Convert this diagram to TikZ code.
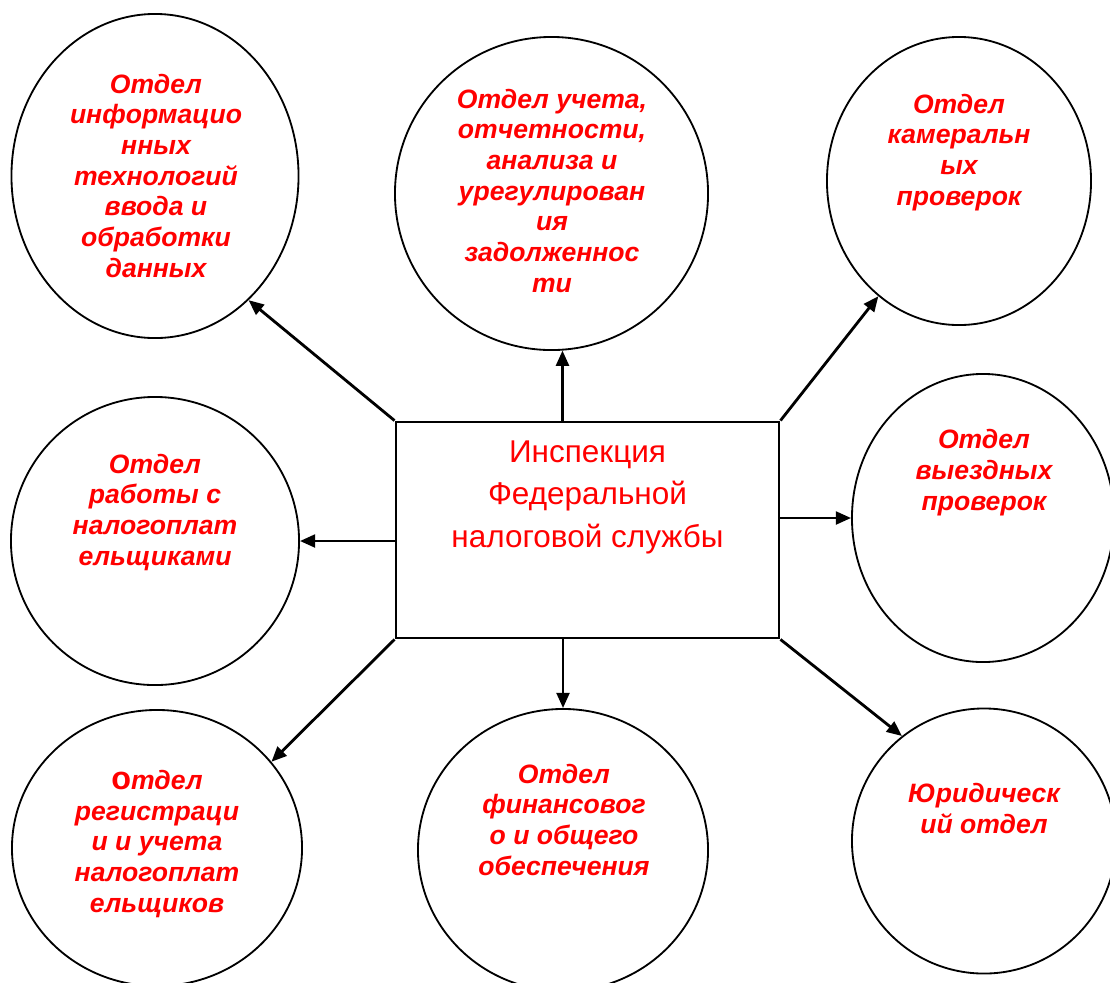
\documentclass[tikz,border=0pt]{standalone}
\usepackage{fontspec}
\setmainfont{Liberation Sans}
\usetikzlibrary{shapes.geometric,arrows.meta}
\tikzset{
  dept/.style={draw, ellipse, line width=1.3pt, inner sep=0pt},
  depttext/.style={text=red, font=\fontsize{18.9}{21.8}\selectfont\bfseries\itshape, align=center, anchor=base},
  arr/.style={line width=2pt, -{Triangle[length=0.38cm,width=0.32cm]}},
}

\begin{document}
\begin{tikzpicture}[x=0.025cm, y=-0.025cm]
\useasboundingbox (0,0) rectangle (1110,982);

\node[draw, line width=2pt, minimum width=9.575cm, minimum height=5.4cm, inner sep=0pt] (ifns) at (587.5,530) {};
\node[anchor=base, align=center, text=red, font=\fontsize{22.4}{29.9}\selectfont] (ifnstext) at (587.5,547) {Инспекция\\Федеральной\\налоговой службы};

\node[dept, minimum width=7.175cm, minimum height=8.1cm] (itdept) at (155,176) {};
\node[dept, minimum width=7.825cm, minimum height=7.825cm] (debtdept) at (551.5,193.5) {};
\node[dept, minimum width=6.6cm, minimum height=7.2cm] (deskdept) at (959,181) {};
\node[dept, minimum width=7.2cm, minimum height=7.2cm] (payerdept) at (155,541) {};
\node[dept, minimum width=6.55cm, minimum height=7.2cm] (fielddept) at (983,518) {};
\node[dept, minimum width=7.25cm, minimum height=6.9cm] (regdept) at (157,848) {};
\node[dept, minimum width=7.25cm, minimum height=7.05cm] (findept) at (563,850) {};
\node[dept, minimum width=6.6cm, minimum height=6.625cm] (lawdept) at (984,841) {};

\node[depttext] (ittext) at (156,277) {Отдел\\информацио\\нных\\технологий\\ввода и\\обработки\\данных};
\node[depttext] (debttext) at (552,292) {Отдел учета,\\отчетности,\\анализа и\\урегулирован\\ия\\задолженнос\\ти};
\node[depttext] (desktext) at (959,205) {Отдел\\камеральн\\ых\\проверок};
\node[depttext] (payertext) at (155,565) {Отдел\\работы с\\налогоплат\\ельщиками};
\node[depttext] (fieldtext) at (984,510) {Отдел\\выездных\\проверок};
\node[depttext] (regtext) at (157,912) {{\fontsize{23}{21.8}\selectfont\upshape о}тдел\\регистраци\\и и учета\\налогоплат\\ельщиков};
\node[depttext] (fintext) at (564,875) {Отдел\\финансовог\\о и общего\\обеспечения};
\node[depttext] (lawtext) at (984,833) {Юридическ\\ий отдел};

\draw[arr] (ifns.north west) -- (itdept.-53);
\draw[arr] (ifns.north -| debtdept.-86) -- (debtdept.-86);
\draw[arr] (ifns.north east) -- (deskdept.-125);
\draw[arr] (payerdept.east -| ifns.west) -- (payerdept.east);
\draw[arr] (fielddept.west -| ifns.east) -- (fielddept.west);
\draw[arr] (ifns.south west) -- (regdept.37);
\draw[arr] (ifns.south -| findept.north) -- (findept.north);
\draw[arr] (ifns.south east) -- (lawdept.128);
\end{tikzpicture}
\end{document}
